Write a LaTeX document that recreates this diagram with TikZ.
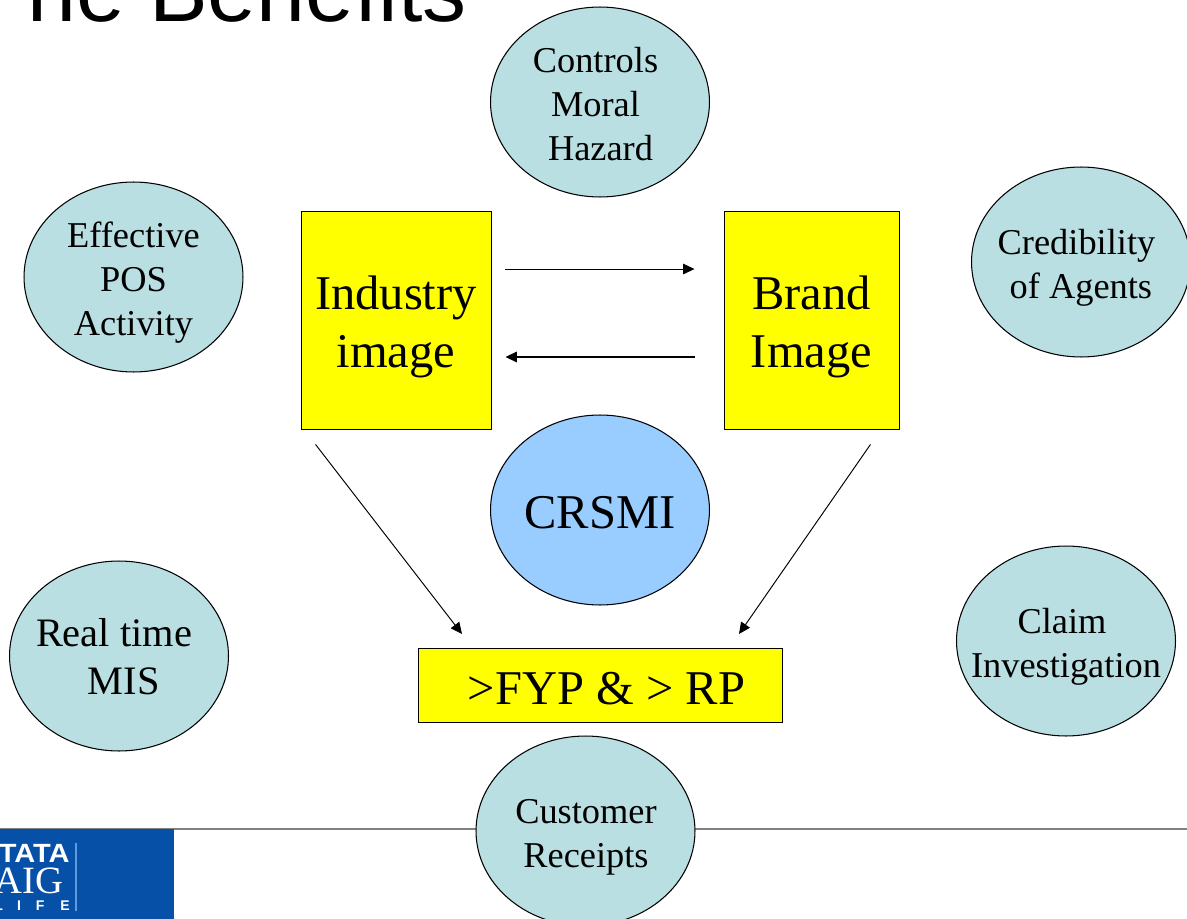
\documentclass[tikz,border=0pt]{standalone}
\usepackage{fontspec}
\setmainfont{Liberation Serif}
\newfontfamily\headfont{Liberation Sans}
\usetikzlibrary{shapes.geometric,arrows.meta}
\definecolor{blobcyan}{HTML}{B9DFE2}
\definecolor{blobblue}{HTML}{99CCFF}
\definecolor{logoblue}{HTML}{0650A8}
\definecolor{boxyellow}{HTML}{FFFF00}
\tikzset{
    blob/.style={ellipse,draw=black,line width=0.6pt,fill=blobcyan,minimum width=4.38cm,minimum height=3.8cm,inner sep=0pt},
    blobtext/.style={inner sep=0pt,align=center,font=\fontsize{20.7}{25}\selectfont},
    yellowbox/.style={rectangle,draw=black,line width=0.55pt,fill=boxyellow,inner sep=0pt},
    boxtext/.style={inner sep=0pt,align=center,font=\fontsize{27.6}{33}\selectfont},
    arrowline/.style={line width=0.55pt,-{Triangle[length=6.5pt,width=6pt]}},
    logotext/.style={text=white,inner sep=0pt}
}
\begin{document}
\begin{tikzpicture}[x=0.02cm,y=-0.02cm]
    \useasboundingbox (0,0) rectangle (1187,919);

    % slide title, cut by the page
    \node (title) [anchor=base west,inner sep=0pt,font=\headfont\fontsize{50}{50}\selectfont] at (-32,22) {T\kern3pt he Benefits};

    % footer
    \coordinate (ruleL) at (0,829);
    \coordinate (ruleR) at (1187,829);
    \draw [gray,line width=0.6pt] (ruleL) -- (ruleR);
    \node (logo) [anchor=north west,fill=logoblue,minimum width=3.48cm,minimum height=1.8cm,inner sep=0pt] at (0,829) {};
    \node (tata) [logotext,anchor=base east,font=\headfont\bfseries\fontsize{15}{15}\selectfont] at (70,862) {\scalebox{1.1}[1]{TATA}};
    \node (aig) [logotext,anchor=base east,font=\fontsize{22}{22}\selectfont] at (64,893) {AIG};
    \node (life) [logotext,anchor=base east,font=\headfont\bfseries\fontsize{8}{8}\selectfont] at (70,910) {L\kern8pt I\kern8.5pt F\kern9pt E};
    \coordinate (barT) at (76,843);
    \coordinate (barB) at (76,911);
    \draw [blobblue!60!logoblue,line width=0.9pt] (barT) -- (barB);

    % circles round the centre
    \node [blob] (controls) at (600,102) {};
    \node [blob] (pos) at (133.5,277) {};
    \node [blob] (agents) at (1081,262) {};
    \node [blob] (mis) at (119,656) {};
    \node [blob] (claim) at (1066,641) {};
    \node [blob] (receipts) at (585.5,831) {};
    \node [blob,fill=blobblue] (crsmi) at (600,510) {};

    \node [blobtext] (controlsText) at (595.5,104) {Controls\\Moral\\\hspace*{5.7pt}Hazard};
    \node [blobtext] (posText) at (133.5,283) {Effective\\POS\\Activity};
    \node [blobtext] (agentsText) at (1076.5,268) {Credibility\\\hspace*{5pt}of Agents};
    \node [blobtext,font=\fontsize{23}{27.5}\selectfont] (misText) at (114,657) {Real time\\\hspace*{11pt}MIS};
    \node [blobtext] (claimText) at (1066,647) {Claim\hspace*{4.5pt}\\Investigation};
    \node [blobtext] (receiptsText) at (586,837) {Customer\\Receipts};
    \node [boxtext] (crsmiText) at (600,513) {CRSMI};

    % boxes
    \node [yellowbox,minimum width=3.8cm,minimum height=4.38cm] (industry) at (396,320.5) {};
    \node [yellowbox,minimum width=3.5cm,minimum height=4.38cm] (brand) at (811.5,320.5) {};
    \node [yellowbox,minimum width=7.3cm,minimum height=1.48cm] (fyp) at (600.5,685) {};

    \node [boxtext] (industryText) at (396,326.5) {Industry\\image};
    \node [boxtext] (brandText) at (811.5,326.5) {Brand\\Image};
    \node [boxtext] (fypText) at (606.5,689) {>FYP \& > RP};

    % arrows
    \coordinate (fypL) at (462,634);
    \coordinate (fypR) at (739,634);
    \draw [arrowline] ([xshift=0.28cm,yshift=1.03cm]industry.east) -- ([xshift=-0.58cm,yshift=1.03cm]brand.west);
    \draw [arrowline,line width=0.8pt] ([xshift=-0.58cm,yshift=-0.73cm]brand.west) -- ([xshift=0.28cm,yshift=-0.73cm]industry.east);
    \draw [arrowline] ([xshift=0.3cm,yshift=-0.28cm]industry.south west) -- (fypL);
    \draw [arrowline] ([xshift=-0.58cm,yshift=-0.28cm]brand.south east) -- (fypR);
\end{tikzpicture}
\end{document}
